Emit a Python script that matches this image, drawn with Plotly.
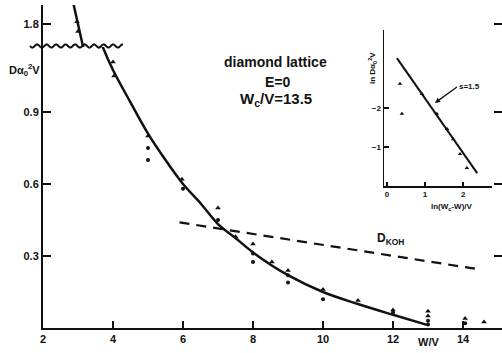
import numpy as np
import plotly.graph_objects as go

# ---------------- data ----------------
# fitted curve, upper (broken) segment of the axis
curve_hi_x = [2.80, 2.87, 3.00, 3.13, 3.20]
curve_hi_y = [1.93, 1.885, 1.80, 1.71, 1.67]
# fitted curve, lower segment
curve_lo_x = [3.66, 3.71, 4.0, 4.5, 5.0, 5.5, 6.0, 6.5, 7.0, 7.5, 8.0, 9.0, 10.0, 11.0, 12.0, 12.97]
curve_lo_y = [1.19, 1.17, 1.075, 0.94, 0.81, 0.70, 0.60, 0.52, 0.433, 0.375, 0.315, 0.22, 0.15, 0.10, 0.055, 0.013]

# simulation points
tri_hi_x = [2.97, 3.00]
tri_hi_y = [1.81, 1.77]
tri_x = [4.0, 4.03, 5.0, 5.97, 7.0, 7.5, 8.0, 8.54, 9.0, 10.0, 11.0, 12.0, 13.0, 13.0, 14.06, 14.6]
tri_y = [1.108, 1.05, 0.80, 0.62, 0.50, 0.38, 0.35, 0.275, 0.24, 0.16, 0.115, 0.075, 0.07, 0.05, 0.04, 0.025]
dot_x = [5.0, 5.0, 6.0, 7.0, 8.0, 8.0, 9.0, 9.0, 10.0, 12.0, 13.0, 13.0, 14.06]
dot_y = [0.75, 0.70, 0.58, 0.45, 0.31, 0.275, 0.22, 0.19, 0.12, 0.065, 0.03, 0.015, 0.02]

# dashed reference line D_KOH
dkh_x = [5.9, 14.43]
dkh_y = [0.44, 0.245]

x_ticks = [2, 4, 6, 8, 10, 12, 14]
y_lo_ticks = [0.3, 0.6, 0.9]
y_hi_ticks = [1.8]

# inset: ln D vs ln(Wc - W)
ins_pts_x = [0.34, 0.39, 0.92, 1.31, 1.58, 1.74, 1.92, 2.10]
ins_pts_y = [-2.62, -1.85, -2.36, -1.85, -1.46, -1.20, -0.82, -0.46]
ins_line_x = [0.26, 2.37]
ins_line_y = [-3.28, -0.33]
ins_x_ticks = [0, 1, 2]
ins_y_ticks = [-2, -1]

# ---------------- figure ----------------
W, H = 502, 353
ML, MR, MT, MB = 43, 0, 5, 25
PW, PH = W - ML - MR, H - MT - MB
BREAK_PX = 47  # pixel row of axis break


def px2paper_x(px):
    return (px - ML) / PW


def px2paper_y(py):
    return (H - MB - py) / PH


brk = px2paper_y(BREAK_PX)
FONT = "Liberation Sans"
BLACK = "#111111"

fig = go.Figure()

# main curve
fig.add_trace(go.Scatter(x=curve_lo_x, y=curve_lo_y, mode="lines",
                         line=dict(color=BLACK, width=2.5, shape="spline", smoothing=1.0),
                         xaxis="x", yaxis="y", hoverinfo="skip"))
fig.add_trace(go.Scatter(x=curve_hi_x, y=curve_hi_y, mode="lines",
                         line=dict(color=BLACK, width=2.5),
                         xaxis="x", yaxis="y2", hoverinfo="skip"))
# dashed line
fig.add_trace(go.Scatter(x=dkh_x, y=dkh_y, mode="lines",
                         line=dict(color=BLACK, width=2.2, dash="10px,7px"),
                         xaxis="x", yaxis="y"))
# points
fig.add_trace(go.Scatter(x=tri_x, y=tri_y, mode="markers",
                         marker=dict(symbol="triangle-up", size=5, color=BLACK),
                         xaxis="x", yaxis="y"))
fig.add_trace(go.Scatter(x=dot_x, y=dot_y, mode="markers",
                         marker=dict(symbol="circle", size=4, color=BLACK),
                         xaxis="x", yaxis="y"))
fig.add_trace(go.Scatter(x=tri_hi_x, y=tri_hi_y, mode="markers",
                         marker=dict(symbol="triangle-up", size=5, color=BLACK),
                         xaxis="x", yaxis="y2"))

# inset
fig.add_trace(go.Scatter(x=ins_line_x, y=ins_line_y, mode="lines",
                         line=dict(color=BLACK, width=2),
                         xaxis="x3", yaxis="y3"))
fig.add_trace(go.Scatter(x=ins_pts_x, y=ins_pts_y, mode="markers",
                         marker=dict(symbol="triangle-up", size=4, color=BLACK),
                         xaxis="x3", yaxis="y3"))

tickfont = dict(family=FONT, size=11, color=BLACK, weight="bold")
axis_common = dict(showgrid=False, zeroline=False, showline=True, linecolor=BLACK,
                   linewidth=2, ticks="inside", tickcolor=BLACK, tickwidth=2,
                   tickfont=tickfont, automargin=False)
inset_common = dict(showgrid=False, zeroline=False, showline=True, linecolor=BLACK,
                    linewidth=1.5, ticks="inside", tickcolor=BLACK, tickwidth=1.5,
                    automargin=False,
                    tickfont=dict(family=FONT, size=8, color=BLACK, weight="bold"))

fig.update_layout(
    template="none",
    width=W, height=H,
    margin=dict(l=ML, r=MR, t=MT, b=MB, pad=0, autoexpand=False),
    paper_bgcolor="white", plot_bgcolor="white",
    showlegend=False, hovermode=False,
    font=dict(family=FONT, color=BLACK),
    xaxis=dict(domain=[0, 1], range=[2, 2 + PW / 35.0], anchor="y",
               tickvals=x_ticks, ticklen=7, mirror=False, **axis_common),
    xaxis2=dict(domain=[0, 1], matches="x", range=[2, 2 + PW / 35.0], anchor="y2",
                side="top", tickvals=x_ticks, ticklen=7, showticklabels=False,
                **axis_common),
    yaxis=dict(domain=[0, brk], range=[0, (H - MB - BREAK_PX) / 240.0], anchor="x",
               tickvals=y_lo_ticks, ticktext=["0.3", "0.6", "0.9"], ticklen=8,
               mirror="ticks", **axis_common),
    yaxis2=dict(domain=[brk, 1], range=[1.705, 1.705 + (BREAK_PX - MT) / 240.0],
                anchor="x", tickvals=y_hi_ticks, ticktext=["1.8"], ticklen=8,
                mirror="ticks", **axis_common),
    xaxis3=dict(domain=[px2paper_x(384), px2paper_x(492)], range=[-0.08, 2.76],
                anchor="y3", tickvals=ins_x_ticks, ticklen=4, **inset_common),
    yaxis3=dict(domain=[px2paper_y(186), px2paper_y(30)], range=[0, -4],
                anchor="x3", tickvals=ins_y_ticks, ticklen=5, **inset_common),
)

# axis-break wavy line
xs = np.linspace(30, 123, 120)
ys = BREAK_PX - 1 + 1.6 * np.sin(2 * np.pi * (xs - 30) / 9.5)
path = "M " + " L ".join(f"{px2paper_x(a):.5f},{px2paper_y(b):.5f}" for a, b in zip(xs, ys))
fig.add_shape(type="path", path=path, xref="paper", yref="paper",
              line=dict(color=BLACK, width=2))

bold = dict(family=FONT, color=BLACK, weight="bold")
ann = [
    dict(text="diamond lattice", x=px2paper_x(275), y=px2paper_y(62), font=dict(size=14, **bold)),
    dict(text="E=0", x=px2paper_x(278), y=px2paper_y(82), font=dict(size=14, **bold)),
    dict(text="W<sub>c</sub>/V=13.5", x=px2paper_x(276), y=px2paper_y(100), font=dict(size=15, **bold)),
    dict(text="Dα<sub>0</sub><sup>2</sup>V", x=px2paper_x(24), y=px2paper_y(70), font=dict(size=11, **bold)),
    dict(text="W/V", x=px2paper_x(428), y=px2paper_y(342), font=dict(size=11, **bold)),
    dict(text="D<sub>KOH</sub>", x=px2paper_x(390), y=px2paper_y(239), font=dict(size=12, **bold)),
    dict(text="ln(W<sub>c</sub>-W)/V", x=px2paper_x(452), y=px2paper_y(207), font=dict(size=8, **bold)),
    dict(text="ln Dα<sub>0</sub><sup>2</sup>V", x=px2paper_x(372), y=px2paper_y(68), textangle=-90,
         font=dict(size=8, **bold)),
]
for a in ann:
    fig.add_annotation(xref="paper", yref="paper", showarrow=False,
                       xanchor="center", yanchor="middle", **a)

# slope annotation in inset
fig.add_annotation(xref="x3", yref="y3", x=1.26, y=-2.13, text="s=1.5",
                   showarrow=True, arrowhead=2, arrowsize=0.8, arrowwidth=1.3,
                   arrowcolor=BLACK, ax=22, ay=-16, xanchor="left",
                   font=dict(size=8, **bold))

fig.write_html("out.html", config={"displayModeBar": False, "staticPlot": True},
               post_script="document.body.style.margin='0';document.body.style.overflow='hidden';")
